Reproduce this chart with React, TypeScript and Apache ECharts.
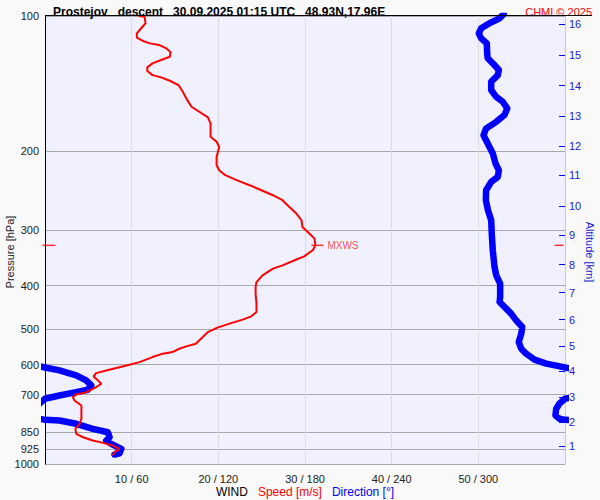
import { useEffect, useRef } from 'react';
import * as echarts from 'echarts';

const titleText = 'Prostejov   descent   30.09.2025 01:15 UTC   48.93N,17.96E';
const creditText = 'CHMI © 2025';

const pressureTicks = [100, 200, 300, 400, 500, 600, 700, 850, 925, 1000];
const speedTicks = [10, 20, 30, 40, 50];
const directionTicks = [60, 120, 180, 240, 300];
const altitudeKm = [1, 2, 3, 4, 5, 6, 7, 8, 9, 10, 11, 12, 13, 14, 15, 16];
const altitudePressure = [912.6, 807.6, 708.9, 621.4, 545.5, 476.1, 414.4, 358.8, 308.6, 265.4, 226.6, 194.9, 167.0, 143.1, 122.4, 104.2];

const speedPressure = [
  100, 100.4, 103.8, 106.5, 109.3, 111.8, 113.7, 115.1, 116.1, 118.1, 120.5, 123.3, 125.4, 127.6, 130.2,
  132.7, 135.5, 137.1, 139.5, 142.6, 147.6, 152.7, 159.4, 163.6, 168.4, 173.7, 186.1, 190.9, 196.0, 206.3,
  215.3, 220.9, 226.6, 232.5, 238.6, 243.6, 251.2, 257.7, 266.8, 276.0, 285.7, 295.7, 305.9, 314.0, 325.0,
  333.4, 343.9, 351.0, 360.2, 366.4, 379.2, 392.6, 402.8, 416.7, 438.5, 457.8, 468.1, 476.1, 486.1, 496.2,
  507.6, 520.8, 538.8, 546.3, 553.0, 562.6, 567.2, 577.2, 592.3, 602.5, 616.0, 626.8, 637.7, 650.6, 661.9,
  673.5, 691.1, 699.4, 709.1, 721.3, 740.2, 766.1, 792.5, 813.3, 834.6, 856.2, 871.5, 886.5, 897.1, 909.5,
  924.9, 941.0, 957.2,
];
const speedValues = [
  10.8, 11.5, 11.6, 11.1, 10.6, 10.6, 11.3, 12.1, 13.2, 14.0, 14.5, 14.4, 13.4, 12.4, 11.8,
  11.8, 12.4, 13.4, 14.4, 15.4, 15.9, 16.3, 16.9, 17.8, 18.8, 19.1, 19.1, 19.8, 20.1, 19.8,
  19.8, 20.1, 20.8, 22.1, 23.6, 24.7, 26.3, 27.4, 28.2, 29.0, 29.6, 29.7, 30.5, 31.1, 31.2,
  30.9, 29.9, 28.8, 27.4, 26.3, 25.1, 24.4, 24.3, 24.3, 24.4, 24.4, 23.8, 22.8, 21.3, 19.9,
  18.8, 18.2, 17.4, 16.3, 15.5, 14.7, 13.6, 12.4, 10.9, 9.4, 7.4, 5.9, 5.6, 6.1, 6.5,
  5.9, 4.8, 3.6, 3.2, 3.4, 4.2, 4.2, 4.2, 4.0, 3.5, 3.6, 4.4, 5.5, 6.7, 7.8,
  8.6, 8.0, 7.8,
];

// direction, unwrapped (values above 360 continue past north)
const dirPressure = [
  99, 101.2, 103.8, 106.5, 109.3, 112.2, 115.1, 121.2, 124.3, 128.7, 132.0, 135.5, 140.2, 146.3, 151.5,
  155.4, 160.8, 166.4, 172.3, 178.2, 184.5, 192.5, 202.7, 213.4, 220.9, 228.6, 234.6, 244.8, 257.7, 271.4,
  285.7, 305.9, 333.4, 363.3, 379.2, 395.8, 424.0, 434.9, 450.0, 461.7, 477.9, 494.6, 511.7, 534.3, 552.8,
  567.2, 584.9, 597.1, 603.3, 609.0, 618.0, 634.1, 650.6, 667.6, 682.6, 691.1, 703.1, 715.1, 732.6, 752.8,
  779.2, 792.5, 797.0, 799.5, 813.3, 834.6, 849.3, 871.5, 886.5, 901.7, 924.9, 946.2, 952.5,
];
const dirValues = [
  317.6, 314.7, 307.7, 302.0, 300.3, 302.0, 305.9, 306.1, 306.5, 311.2, 314.2, 313.5, 308.9, 308.9, 312.4,
  316.9, 320.0, 318.1, 312.4, 305.4, 303.6, 306.5, 310.0, 311.9, 314.2, 313.5, 308.9, 305.4, 305.2, 306.7,
  308.9, 309.3, 310.0, 311.2, 312.4, 315.1, 315.1, 314.7, 319.3, 322.7, 326.2, 330.4, 329.7, 328.0, 329.7,
  333.1, 338.9, 347.0, 353.9, 360.0, 370.0, 381.6, 388.5, 392.0, 389.6, 381.6, 370.0, 360.0, 356.2, 353.9,
  353.4, 356.2, 360.0, 370.0, 381.6, 393.1, 403.5, 404.7, 402.4, 405.8, 412.8, 411.6, 408.1,
];

const maxWindPressure = 325;
const maxWindSpeed = 31.2;
const speedMax = 60;
const directionMax = 360;

const FONT = '"Liberation Sans", Arial, sans-serif';
const RED = '#ff0000';
const BLUE = '#0000ff';
const LABEL_BLUE = '#2222cc';

export default function App() {
  const ref = useRef<HTMLDivElement>(null);

  useEffect(() => {
    if (!ref.current) return;
    const chart = echarts.init(ref.current, null, { renderer: 'svg' });

    const speedData = speedPressure.map((p, i) => [speedValues[i], p]);
    const dirData = dirPressure.map((p, i) => [dirValues[i], p]);
    const dirWrapped = dirPressure.map((p, i) => [dirValues[i] - directionMax, p]);

    const nearestAltitude = (v: number) => {
      let best = 0;
      for (let i = 1; i < altitudePressure.length; i++) {
        if (Math.abs(altitudePressure[i] - v) < Math.abs(altitudePressure[best] - v)) best = i;
      }
      return String(altitudeKm[best]);
    };

    chart.setOption({
      animation: false,
      backgroundColor: '#f9f9f9',
      textStyle: { fontFamily: FONT },
      title: [
        {
          text: titleText,
          left: 48,
          top: 1,
          textStyle: { fontSize: 12, fontWeight: 'bold', color: '#000', fontFamily: FONT },
        },
        {
          text: creditText,
          right: 3,
          top: 1,
          textStyle: { fontSize: 11, fontWeight: 'normal', color: RED, fontFamily: FONT },
        },
      ],
      graphic: [
        {
          type: 'line',
          shape: { x1: 45, y1: 15.5, x2: 592, y2: 15.5 },
          style: { stroke: '#000', lineWidth: 1 },
          z: 100,
        },
      ],
      grid: {
        left: 45,
        right: 35,
        top: 16,
        bottom: 36,
        show: true,
        backgroundColor: '#f0f0ff',
        borderWidth: 0,
        containLabel: false,
        outerBoundsMode: 'none',
      },
      xAxis: [
        {
          type: 'value',
          min: 0,
          max: speedMax,
          interval: 10,
          position: 'bottom',
          axisLine: { show: false, onZero: false },
          axisTick: { show: false },
          axisLabel: {
            fontSize: 11,
            color: '#222',
            margin: 9,
            fontFamily: FONT,
            formatter: (v: number) => {
              const i = speedTicks.indexOf(v);
              return i >= 0 ? `${speedTicks[i]} / ${directionTicks[i]}` : '';
            },
          },
          splitLine: { show: true, lineStyle: { color: '#dadae0', width: 1 } },
          name: '{a|WIND}   {b|Speed [m/s]}   {c|Direction [°]}',
          nameLocation: 'middle',
          nameGap: 22,
          nameMoveOverlap: false,
          nameTextStyle: {
            fontFamily: FONT,
            rich: {
              a: { color: '#000', fontSize: 12, fontFamily: FONT },
              b: { color: RED, fontSize: 12, fontFamily: FONT },
              c: { color: BLUE, fontSize: 12, fontFamily: FONT },
            },
          },
        },
        {
          type: 'value',
          min: 0,
          max: directionMax,
          show: false,
          axisLine: { onZero: false },
          splitLine: { show: false },
        },
      ],
      yAxis: [
        {
          type: 'log',
          logBase: 10,
          min: 100,
          max: 1000,
          inverse: true,
          position: 'left',
          axisLine: { show: true, onZero: false, lineStyle: { color: '#000', width: 1 } },
          axisTick: { show: false, customValues: pressureTicks },
          axisLabel: {
            customValues: pressureTicks,
            fontSize: 11,
            color: '#222',
            margin: 6,
            fontFamily: FONT,
            formatter: (v: number) => String(Math.round(v)),
          },
          splitLine: { show: true, lineStyle: { color: '#a8a8a8', width: 1 } },
          name: 'Pressure [hPa]',
          nameLocation: 'middle',
          nameRotate: 90,
          nameGap: 30,
          nameMoveOverlap: false,
          nameTextStyle: { fontSize: 11, color: '#222', fontFamily: FONT, padding: [0, 24, 0, 0] },
        },
        {
          type: 'log',
          logBase: 10,
          min: 100,
          max: 1000,
          inverse: true,
          position: 'right',
          axisLine: { show: true, onZero: false, lineStyle: { color: '#c8c8d4', width: 1 } },
          axisTick: {
            show: true,
            inside: true,
            length: 6,
            customValues: altitudePressure,
            lineStyle: { color: BLUE, width: 1 },
          },
          axisLabel: {
            customValues: altitudePressure,
            fontSize: 11,
            color: LABEL_BLUE,
            margin: 4,
            fontFamily: FONT,
            formatter: (v: number) => nearestAltitude(v),
          },
          splitLine: { show: false },
          name: 'Altitude [km]',
          nameLocation: 'middle',
          nameRotate: -90,
          nameGap: 19,
          nameMoveOverlap: false,
          nameTextStyle: { fontSize: 11, color: LABEL_BLUE, fontFamily: FONT, padding: [0, 0, 0, 24] },
        },
      ],
      series: [
        {
          type: 'line',
          name: 'Direction',
          xAxisIndex: 1,
          yAxisIndex: 0,
          data: dirData,
          showSymbol: false,
          clip: true,
          lineStyle: { color: BLUE, width: 6.5, cap: 'round', join: 'round' },
          z: 2,
        },
        {
          type: 'line',
          name: 'Direction wrapped',
          xAxisIndex: 1,
          yAxisIndex: 0,
          data: dirWrapped,
          showSymbol: false,
          clip: true,
          lineStyle: { color: BLUE, width: 6.5, cap: 'round', join: 'round' },
          z: 2,
        },
        {
          type: 'line',
          name: 'Speed',
          xAxisIndex: 0,
          yAxisIndex: 0,
          data: speedData,
          showSymbol: false,
          clip: true,
          lineStyle: { color: RED, width: 2 },
          z: 3,
        },
        {
          type: 'scatter',
          name: 'MXWS',
          xAxisIndex: 0,
          yAxisIndex: 0,
          clip: false,
          symbol: 'rect',
          symbolSize: [12, 1.5],
          symbolOffset: [2, 0],
          itemStyle: { color: RED },
          label: {
            show: true,
            position: 'right',
            distance: 4,
            formatter: 'MXWS',
            color: '#ff2020',
            fontSize: 10,
            fontFamily: FONT,
          },
          data: [[maxWindSpeed, maxWindPressure]],
          z: 4,
        },
        {
          type: 'scatter',
          name: 'MXWS level',
          xAxisIndex: 0,
          yAxisIndex: 0,
          clip: false,
          symbol: 'rect',
          itemStyle: { color: RED },
          data: [
            { value: [0, maxWindPressure], symbolSize: [13, 1.5], symbolOffset: [4, 0] },
            { value: [speedMax, maxWindPressure], symbolSize: [9, 1.5], symbolOffset: [-6, 0] },
          ],
          z: 4,
        },
      ],
    });

    return () => chart.dispose();
  }, []);

  return (
    <div
      ref={ref}
      style={{ position: 'absolute', left: 0, top: 0, width: 600, height: 500 }}
    />
  );
}
